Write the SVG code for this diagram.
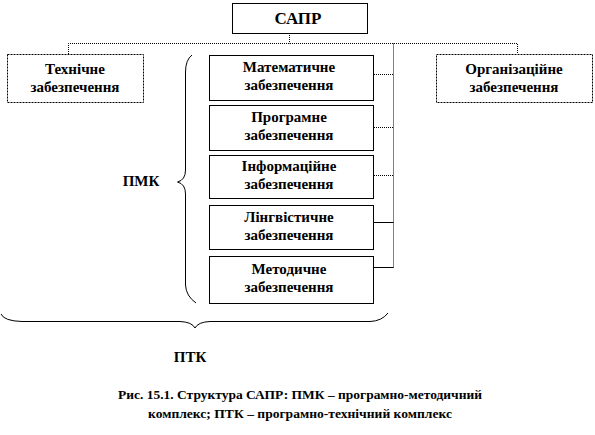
<svg xmlns="http://www.w3.org/2000/svg" width="595" height="435" viewBox="0 0 595 435">
<style>
  .box{fill:#fff;stroke:#000;stroke-width:1}
  .sbox{fill:#fff;stroke:#000;stroke-width:1;stroke-dasharray:2,1}
  .t{font-family:'Liberation Serif','Times New Roman',serif;font-weight:bold;font-size:15px;text-anchor:middle;fill:#000}
  .dot{fill:none;stroke:#000;stroke-width:1;stroke-dasharray:1,1}
  .sol{fill:none;stroke:#000;stroke-width:1}
</style>
<rect width="595" height="435" fill="#fff"/>
<g id="connectors">
  <path class="dot" d="M289.5 33 V43.5 M68.5 54 V43.5 H517.5 V54 M393.5 43.5 V268"/>
  <path class="dot" d="M374 74.5 H393.5 M374 127.5 H393.5 M374 175.5 H393.5"/>
  <path class="sol" d="M374 222.5 H393.5 M374 267.5 H393.5"/>
</g>
<g id="sapr">
  <rect class="box" x="232.5" y="3.5" width="135" height="30"/>
  <text class="t" x="298" y="24" style="font-size:17px">САПР</text>
</g>
<g id="tech">
  <rect class="sbox" x="7.5" y="54.5" width="136" height="48"/>
  <text class="t" x="75" y="74">Технічне</text>
  <text class="t" x="75" y="92">забезпечення</text>
</g>
<g id="org">
  <rect class="sbox" x="436.5" y="54.5" width="156" height="48"/>
  <text class="t" x="514" y="74">Організаційне</text>
  <text class="t" x="514" y="92">забезпечення</text>
</g>
<g id="math">
  <rect class="box" x="209.5" y="55.5" width="164" height="45"/>
  <text class="t" x="289" y="72">Математичне</text>
  <text class="t" x="289" y="90">забезпечення</text>
</g>
<g id="prog">
  <rect class="box" x="209.5" y="105.5" width="164" height="45"/>
  <text class="t" x="289" y="122">Програмне</text>
  <text class="t" x="289" y="140">забезпечення</text>
</g>
<g id="info">
  <rect class="box" x="209.5" y="155.5" width="164" height="43"/>
  <text class="t" x="289" y="171">Інформаційне</text>
  <text class="t" x="289" y="189">забезпечення</text>
</g>
<g id="ling">
  <rect class="box" x="209.5" y="205.5" width="164" height="44"/>
  <text class="t" x="289" y="222">Лінгвістичне</text>
  <text class="t" x="289" y="240">забезпечення</text>
</g>
<g id="method">
  <rect class="box" x="209.5" y="256.5" width="164" height="47"/>
  <text class="t" x="289" y="274">Методичне</text>
  <text class="t" x="289" y="292">забезпечення</text>
</g>
<g id="pmk">
  <path class="sol" d="M192 55 Q185.5 60 185.5 72 V170 Q185.5 180 177.5 182 Q185.5 184 185.5 194 V285 Q186 296 196 303"/>
  <text class="t" x="141" y="186">ПМК</text>
</g>
<g id="ptk">
  <path class="sol" d="M1 314 Q4 321 22 321.5 H180 Q192 322 195 328 Q198 322 210 321.5 H370 Q382 321 388 313"/>
  <text class="t" x="190" y="362">ПТК</text>
</g>
<g id="caption">
  <text class="t" x="300" y="399" style="font-size:13px" textLength="364" lengthAdjust="spacingAndGlyphs">Рис. 15.1. Структура САПР: ПМК – програмно-методичний</text>
  <text class="t" x="300" y="418" style="font-size:13px" textLength="304" lengthAdjust="spacingAndGlyphs">комплекс; ПТК – програмно-технічний комплекс</text>
</g>
</svg>
